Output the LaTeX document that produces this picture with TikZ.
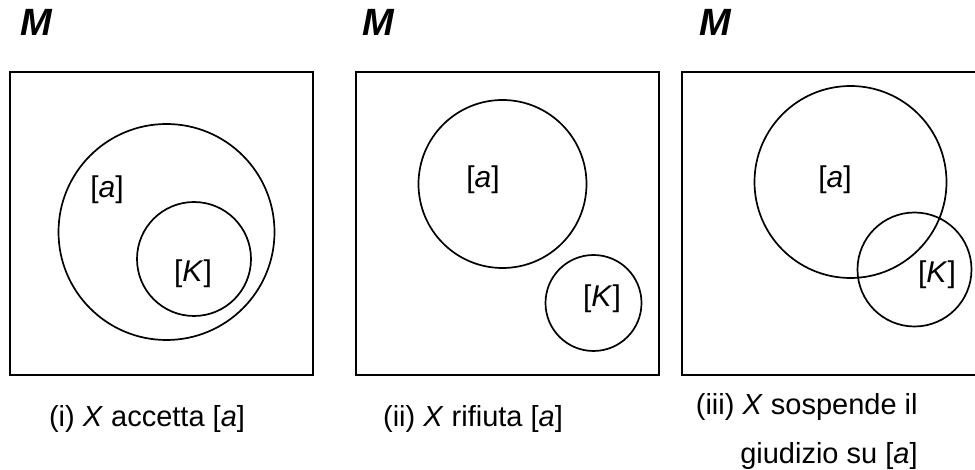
\documentclass[tikz,border=0pt]{standalone}
\usepackage{fontspec}
\setmainfont{Liberation Sans}
\usepackage{tikz}

\tikzset{
	frame/.style={draw,line width=0.85pt},
	set/.style={draw,line width=0.85pt},
	lbl/.style={inner sep=0pt,font=\fontsize{15}{18}\selectfont},
	space/.style={inner sep=0pt,font=\fontsize{19}{22}\selectfont\bfseries\itshape},
	captext/.style={inner sep=0pt,font=\fontsize{14.5}{24.5}\selectfont}
}

\begin{document}
\begin{tikzpicture}[x=0.5pt,y=-0.5pt]
		\useasboundingbox (0,0) rectangle (975,470);
		\clip (0,0) rectangle (975,470);
%		\draw[help lines,step=50] (0,0) grid (975,470);
		% (i) accetta
		\path (10,72) coordinate (box1_nw);
		\path (313,375) coordinate (box1_se);
		\path (166.5,232) coordinate (a1);
		\path (194,259) coordinate (k1);
		\path (36,22) node(m1) [space] {M};
		\draw[frame] (box1_nw) rectangle (box1_se);
		\draw[set] (a1) circle [radius=108];
		\draw[set] (k1) circle [radius=57];
		\path (107,190) node(a1_lbl) [lbl] {[\textit{a}]};
		\path (193,274) node(k1_lbl) [lbl] {[\textit{K}]};
		\path (147,419) node(cap1) [captext] {(i) \textit{X} accetta [\textit{a}]};
		% (ii) rifiuta
		\path (356,72) coordinate (box2_nw);
		\path (659,375) coordinate (box2_se);
		\path (502.5,184) coordinate (a2);
		\path (593.5,303) coordinate (k2);
		\path (378,22) node(m2) [space] {M};
		\draw[frame] (box2_nw) rectangle (box2_se);
		\draw[set] (a2) circle [radius=84];
		\draw[set] (k2) circle [radius=48];
		\path (483,180) node(a2_lbl) [lbl] {[\textit{a}]};
		\path (602,299) node(k2_lbl) [lbl] {[\textit{K}]};
		\path (473,419) node(cap2) [captext] {(ii) \textit{X} rifiuta [\textit{a}]};
		% (iii) sospende
		\path (682,72) coordinate (box3_nw);
		\path (990,375) coordinate (box3_se);
		\path (850.5,182) coordinate (a3);
		\path (914.5,269.5) coordinate (k3);
		\path (715,22) node(m3) [space] {M};
		\draw[frame] (box3_nw) rectangle (box3_se);
		\draw[set] (a3) circle [radius=96];
		\draw[set] (k3) circle [radius=57];
		\path (835,180) node(a3_lbl) [lbl] {[\textit{a}]};
		\path (937,275) node(k3_lbl) [lbl] {[\textit{K}]};
		\path (918,432) node(cap3) [captext,anchor=east,align=right] {(iii) \textit{X} sospende il\\giudizio su [\textit{a}]};
	\end{tikzpicture}
\end{document}
